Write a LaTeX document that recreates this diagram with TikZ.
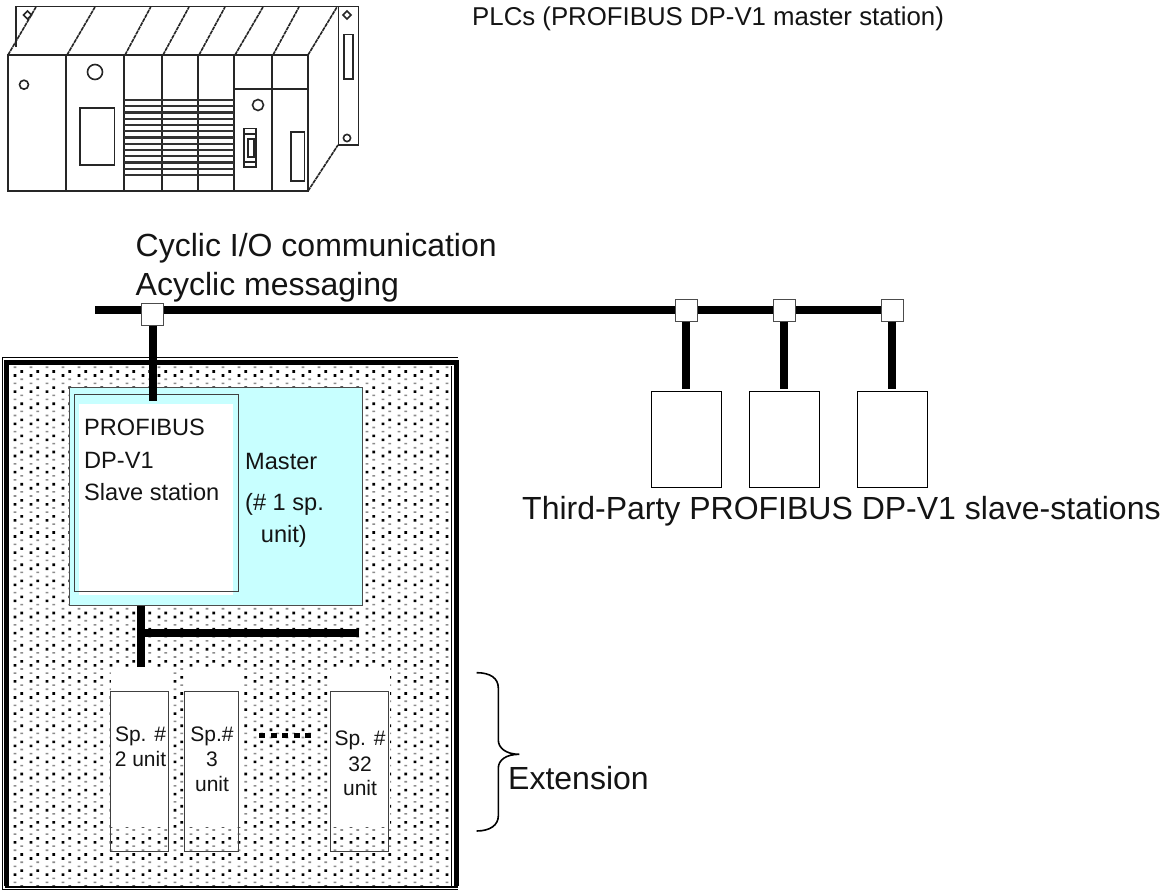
\documentclass[tikz,border=0pt]{standalone}
\usepackage{fontspec}
\setmainfont{Liberation Sans}
\definecolor{mastercyan}{RGB}{200,255,255}
\tikzset{
  lbl/.style={anchor=base west,inner sep=0pt,text=black!92},
  clbl/.style={anchor=base,inner sep=0pt,text=black!92},
  big/.style={font=\fontsize{32}{36}\selectfont},
  mid/.style={font=\fontsize{25.8}{30}\selectfont},
  small/.style={font=\fontsize{23.6}{28}\selectfont},
  tiny/.style={font=\fontsize{21}{25}\selectfont},
  cable/.style={line width=8pt,black},
  junc/.style={draw=black!70,fill=white,line width=1pt,minimum size=22pt,inner sep=0pt},
  box/.style={draw=black,fill=white,line width=1pt,minimum width=70pt,minimum height=96pt,inner sep=0pt},
  plc/.style={line width=1.6pt,draw=black!85},
  dia/.style={line width=1.6pt,draw=black!85,dash pattern=on 4pt off 0.7pt},
  unitbox/.style={draw=black!75,line width=0.9pt},
}
\begin{document}
\begin{tikzpicture}[x=1pt,y=-1pt]
\useasboundingbox (0,0) rectangle (1172,890);
\fill[white] (0,0) rectangle (1172,890);
% --- PLC drawing
\draw[plc] (15.7,47) -- (15.7,6.7) -- (358.3,6.7) -- (358.3,145) -- (338.3,145) -- (338.3,6.7);
\foreach \a/\b in {8/36,67/95,125/150.7,163/189,199/225,235/263,273/299,308/337}
  \draw[dia] (\a,55) -- (\b,7);
\draw[dia] (308,191) -- (338,145);
\draw[plc] (7.7,55) rectangle (307.7,191);
\foreach \a in {66,124,162,198,234,272} \draw[plc] (\a,55) -- (\a,191);
\draw[plc] (234,89) -- (307.7,89);
\foreach \i in {0,...,12} \draw[line width=2.2pt,black!80] (124,100+6.25*\i) -- (234,100+6.25*\i);
\draw[plc,fill=white] (79.7,108.3) rectangle (114.3,165);
\draw[plc] (95,72) circle (7.5);
\draw[plc] (24,84.7) circle (4.5);
\draw[plc] (258,105) circle (5.5);
\draw[plc] (290.7,132.3) rectangle (304.3,181);
\draw[plc,fill=white] (243.7,128.5) rectangle (256,167);
\draw[plc] (248,139) rectangle (254,157);
\draw[plc] (243.7,134) -- (256,134);
\draw[plc] (243.7,162) -- (256,162);
\draw[plc] (344,34.7) rectangle (352.7,79);
\draw[plc] (347,11) -- (351,15) -- (347,19) -- (343,15) -- cycle;
\draw[plc] (347,138) circle (3.6);
\draw[plc] (27.5,11) -- (31.5,15) -- (27.5,19) -- (23.5,15) -- cycle;
\node[lbl,mid] (plcs) at (472,26) {PLCs (PROFIBUS DP-V1 master station)};
% --- bus
\node[lbl,big] (cyc) at (135.5,256.7) {Cyclic I/O communication};
\node[lbl,big] (acy) at (135.5,295.7) {Acyclic messaging};
\coordinate (busstart) at (95,310);
\coordinate (busend) at (885,310);
\draw[cable] (busstart) -- (busend);
\node[junc] (j1) at (152,314.5) {};
\node[junc] (j2) at (686.8,310.5) {};
\node[junc] (j3) at (784.5,310.5) {};
\node[junc] (j4) at (892.3,310.5) {};
\node[box] (s1) at (686.7,439.3) {};
\node[box] (s2) at (784.7,439.3) {};
\node[box] (s3) at (892.7,439.3) {};
\foreach \j/\x in {j2/686,j3/783.7,j4/891.7}
  \draw[cable] (\x,0 |- \j.south) -- (\x,389.3);
\node[lbl,big] (third) at (522,519) {Third-Party PROFIBUS DP-V1 slave-stations};
% --- station frame
\begin{scope}
\clip (8,366) rectangle (451,886);
\fill[black] \foreach \i in {0,...,28} \foreach \k in {0,...,33} {
  ({21.7+16*\i-1.3},{371.5+16.1*\k-1.3}) rectangle +(2.6,2.6)
  ({15+16*\i-1.3},{375.5+16.1*\k-1.3}) rectangle +(2.6,2.6)
};
\fill[black!45] \foreach \i in {0,...,28} \foreach \k in {0,...,33} {
  ({15+16*\i-1.3},{367.2+16.1*\k-0.8}) rectangle +(2.6,1.6)
  ({21.7+16*\i-1.3},{379.2+16.1*\k-0.8}) rectangle +(2.6,1.6)
};
\end{scope}
\draw[line width=1pt,black] (2,357) -- (458,357);
\draw[line width=1pt,black] (2,357) -- (2,889.5) -- (458,889.5);
\draw[line width=4.5pt,black] (6.3,886) -- (6.3,362.7) -- (456.7,362.7) -- (456.7,886);
\draw[line width=1pt,black] (451,366) -- (451,886);
\draw[line width=2pt,black] (5,886.5) -- (458,886.5);
% --- master
\node[draw=black!70,fill=mastercyan,line width=1pt,minimum width=293pt,minimum height=217.7pt,inner sep=0pt] (master) at (215.5,496.2) {};
\fill[white] (79,404) rectangle (233,595);
\node[unitbox,minimum width=164pt,minimum height=196.7pt,inner sep=0pt] (slave) at (156,492.7) {};
\coordinate (slavestub) at (153,401);
\draw[cable] (j1.south -| slavestub) -- (slavestub);
\node[lbl,small] (t1) at (84,435.7) {PROFIBUS};
\node[lbl,small] (t2) at (84,468) {DP-V1};
\node[lbl,small] (t3) at (84,500) {Slave station};
\node[lbl,small] (t4) at (245,469) {Master};
\node[lbl,small] (t5) at (245,510) {(\# 1 sp.};
\node[lbl,small] (t6) at (260.7,542) {unit)};
% --- units
\fill[white] (111,667) rectangle (169,827);
\fill[white] (184,667) rectangle (242,827);
\fill[white] (330,667) rectangle (390,827);
\node[unitbox,minimum width=58pt,minimum height=159.3pt,inner sep=0pt] (u1) at (139.7,771.4) {};
\node[unitbox,minimum width=53.3pt,minimum height=159.3pt,inner sep=0pt] (u2) at (211.3,771.4) {};
\node[unitbox,minimum width=58.2pt,minimum height=159.3pt,inner sep=0pt] (u3) at (359.4,771.4) {};
\coordinate (tee) at (141,633.3);
\coordinate (teeend) at (359,633.3);
\coordinate (downend) at (141,666.7);
\draw[cable] (master.south -| tee) -- (downend);
\draw[cable] (tee) -- (teeend);
\coordinate (dotsA) at (259,735.7);
\coordinate (dotsB) at (314,735.7);
\draw[line width=5.5pt,black,dash pattern=on 6pt off 5.5pt] (dotsA) -- (dotsB);
\node[clbl,tiny] at (140.5,741.7) {Sp. \#};
\node[clbl,tiny] at (140.5,766.7) {2 unit};
\node[clbl,tiny] at (212,741.7) {Sp.\#};
\node[clbl,tiny] at (212,766.7) {3};
\node[clbl,tiny] at (212,791.7) {unit};
\node[clbl,tiny] at (360,745) {Sp. \#};
\node[clbl,tiny] at (360,771) {32};
\node[clbl,tiny] at (360,795) {unit};
% --- brace
\draw[line width=1.6pt,black] (476.7,672.7) .. controls (490,672.7) and (498.3,678) .. (498.3,688)
  -- (498.3,740) .. controls (498.3,748) and (506,754.3) .. (519.3,754.3)
  .. controls (506,754.3) and (498.3,760) .. (498.3,768.3)
  -- (498.3,816) .. controls (498.3,825) and (490,831) .. (476.7,831);
\node[lbl,big] (ext) at (508,789.3) {Extension};
\end{tikzpicture}
\end{document}
